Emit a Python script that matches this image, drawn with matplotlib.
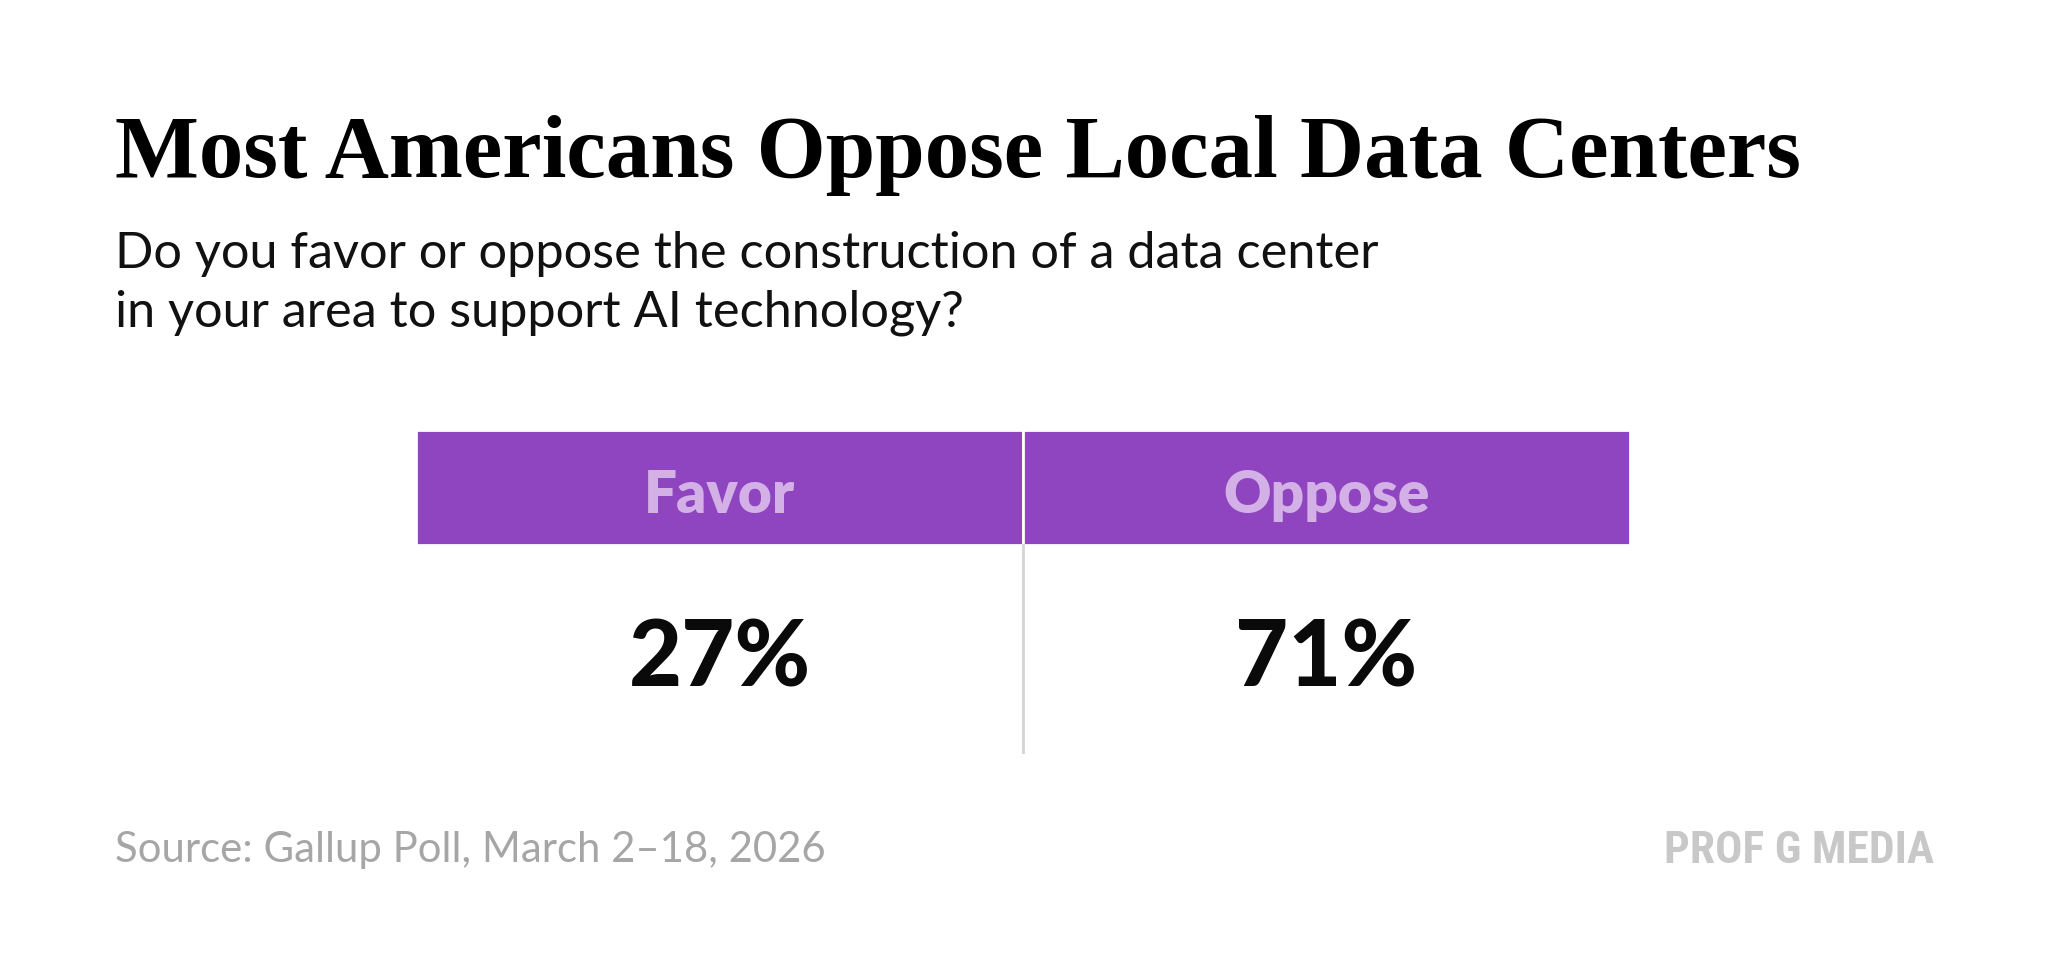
import matplotlib
matplotlib.use('Agg')
import matplotlib.pyplot as plt

# data
categories = ['Favor', 'Oppose']
values = [27, 71]
title = 'Most Americans Oppose Local Data Centers'
subtitle = ['Do you favor or oppose the construction of a data center',
            'in your area to support AI technology?']
source = 'Source: Gallup Poll, March 2\u201318, 2026'
brand = 'PROF G MEDIA'

W, H = 2048, 979
purple = '#8f44c0'
lavender = '#d3b1e6'

fig = plt.figure(figsize=(W / 100, H / 100), dpi=100)
fig.patch.set_facecolor('white')
renderer = fig.canvas.get_renderer()


def put(x, y, s, width, **kw):
    # place text at pixel position (baseline) and scale font to the target width
    t = fig.text(x / W, 1 - y / H, s, va='baseline', fontsize=40, **kw)
    w = t.get_window_extent(renderer).width
    t.set_fontsize(40 * width / w)
    return t


put(115, 177, title, 1685, family='Liberation Serif', weight='bold', color='#000000')
s1 = put(115, 268, subtitle[0], 1265, family='Lato', color='#111111')
fig.text(115 / W, 1 - 326 / H, subtitle[1], va='baseline', family='Lato',
         color='#111111', fontsize=s1.get_fontsize())
put(115, 862, source, 710, family='Lato', color='#a6a6a6')
put(1664, 863, brand, 269, family=['Roboto Condensed', 'Noto Sans', 'DejaVu Sans'],
    stretch='condensed', weight='bold', color='#c8c8c8')

# table area
ax = fig.add_axes([416 / W, 1 - 755 / H, (1630 - 416) / W, (755 - 431) / H])
ax.set_xlim(-0.5, len(categories) - 0.5)
ax.set_ylim(0, 1)
ax.axis('off')

head_h = (546 - 431) / (755 - 431)
ax.bar(range(len(categories)), head_h, bottom=1 - head_h, width=1.0,
       color=purple, edgecolor='white', linewidth=2)
ax.plot([0.5, 0.5], [0, 1 - head_h], color='#d4d4d4', lw=2)

for i, (c, v) in enumerate(zip(categories, values)):
    ax.text(i, 0.747, c, ha='center', va='baseline', fontsize=42,
            family='Lato', weight='heavy', color=lavender)
    ax.text(i, 0.21, f'{v}%', ha='center', va='baseline', fontsize=66,
            family='Lato', weight='black', color='#0a0a0a')

fig.savefig('out.png', dpi=100, facecolor='white')
